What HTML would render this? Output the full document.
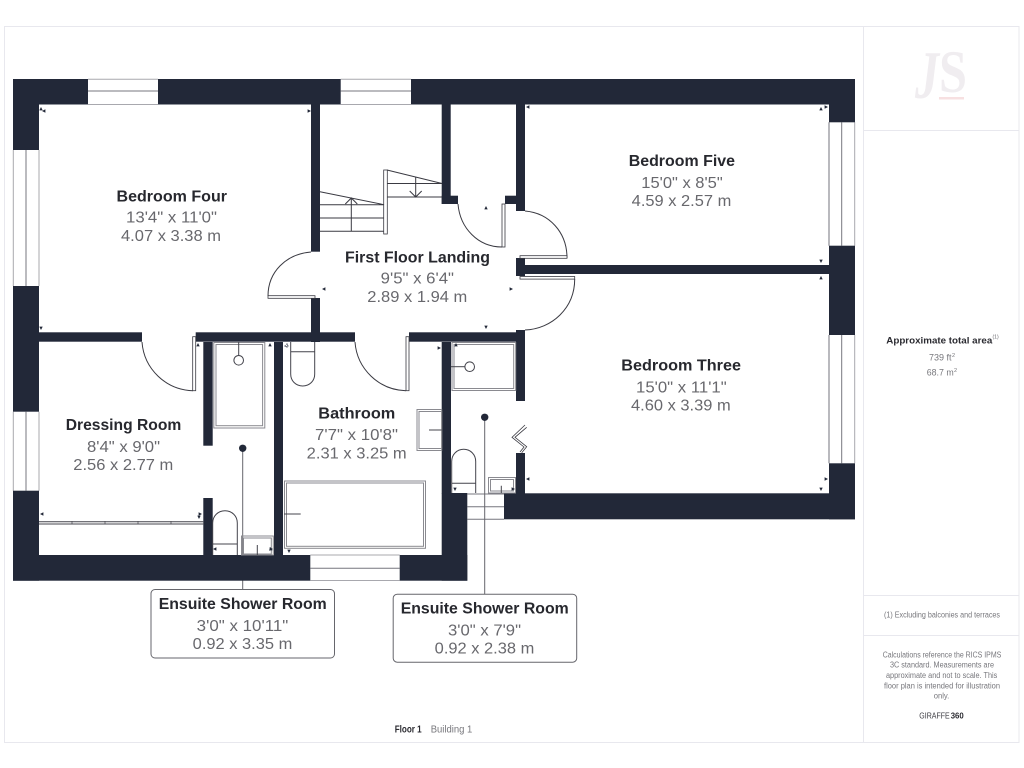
<!DOCTYPE html>
<html>
<head>
<meta charset="utf-8">
<title>Floor 1 plan</title>
<style>
html,body{margin:0;padding:0;background:#fff;width:1024px;height:768px;overflow:hidden}
svg{position:absolute;left:0;top:0;display:block}
text{font-family:"Liberation Sans",sans-serif}
.t{font-weight:700;font-size:16px;fill:#27282e}
.d{font-size:16px;fill:#68686d}
.s{font-size:8px;fill:#77777c}
</style>
</head>
<body>
<svg width="1024" height="768" viewBox="0 0 1024 768" xmlns="http://www.w3.org/2000/svg">
<rect width="1024" height="768" fill="#fff"/>
<!-- frame -->
<g stroke="#e8e8ee" stroke-width="1" fill="none">
<rect x="4.5" y="26.5" width="1014.5" height="716"/>
<path d="M863.5 26.5V742.5M863.5 130.5H1019M863.5 595.5H1019M863.5 635.5H1019"/>
</g>
<!-- logo -->
<text x="915" y="98" font-size="68" font-style="italic" font-weight="700" textLength="24" lengthAdjust="spacingAndGlyphs" style="font-family:'Liberation Serif',serif" fill="#f0edf0">J</text>
<text x="939" y="92" font-size="60" font-weight="700" textLength="28" lengthAdjust="spacingAndGlyphs" style="font-family:'Liberation Serif',serif" fill="#f0edf0">S</text>
<rect x="939" y="97" width="25" height="2.5" fill="#f7e0e1"/>

<!-- window and opening lines -->
<g fill="none" stroke="#77777f" stroke-width="1">
<path d="M88 91H158M340.7 91H411M26 150V286M26 411.7V490.7M310.3 568.3H399.7M841.7 122.3V245.7M841.7 335V463.3"/>
<path d="M467.3 494H504M467.3 506.7H504M467.3 519.3H504"/>
</g>
<g fill="none" stroke="#a8a8ae" stroke-width="1">
<path d="M88 79.3H158M340.7 79.3H411M88 104.5H158M340.7 104.5H411M13.3 150V286M13.3 411.7V490.7M39 150V286M39 411.7V490.7M310.3 555H399.7M310.3 580.5H399.7M854.7 122.3V245.7M854.7 335V463.3"/>
</g>
<path d="M829 122.3V245.7M829 335V463.3" stroke="#a8a8ae" stroke-width="1.6" fill="none"/>

<!-- leader lines drawn beneath walls -->
<path d="M242.7 448V589M484.7 417V594" stroke="#66666c" stroke-width="1" fill="none"/>

<!-- walls -->
<g fill="#222838">
<rect x="13" y="79" width="75" height="25.5"/>
<rect x="158" y="79" width="182.7" height="25.5"/>
<rect x="411" y="79" width="444" height="25.5"/>
<rect x="13" y="79" width="26" height="71"/>
<rect x="13" y="286" width="26" height="125.7"/>
<rect x="13" y="490.7" width="26" height="90"/>
<rect x="13" y="555" width="297.3" height="25.7"/>
<rect x="399.7" y="555" width="67.6" height="25.7"/>
<rect x="829" y="79" width="26" height="43.3"/>
<rect x="829" y="245.7" width="26" height="89.3"/>
<rect x="829" y="463.3" width="26" height="56"/>
<rect x="504" y="493.3" width="351" height="26"/>
<rect x="311" y="104" width="9" height="147.7"/>
<rect x="311" y="298" width="9" height="44"/>
<rect x="39" y="332.3" width="103" height="9.4"/>
<rect x="195.7" y="332.3" width="159.3" height="9.4"/>
<rect x="409" y="332.3" width="116" height="9.4"/>
<rect x="441.7" y="104" width="9" height="100"/>
<rect x="441.7" y="195.7" width="16.3" height="8.3"/>
<rect x="516" y="104" width="9" height="107"/>
<rect x="505" y="195.7" width="11" height="8.3"/>
<rect x="516" y="258" width="9" height="18"/>
<rect x="516" y="265" width="313" height="9"/>
<rect x="516" y="330" width="9" height="71"/>
<rect x="516" y="453" width="9" height="41"/>
<rect x="203.3" y="342" width="9.4" height="103.7"/>
<rect x="203.3" y="498" width="9.4" height="57"/>
<rect x="274" y="342" width="9" height="213"/>
<rect x="441.7" y="342" width="9.3" height="151.5"/>
<rect x="441.7" y="493" width="25.6" height="87.7"/>
</g>

<!-- doors -->
<g fill="none" stroke="#3a3a42" stroke-width="1">
<path d="M311 252C286 254 268 272 268 296"/>
<rect x="268" y="295.7" width="47" height="2.6" fill="#fff" stroke-width=".8"/>
<path d="M458 204C460 228 478 247 502 247"/>
<rect x="502" y="204" width="3" height="43" fill="#fff" stroke-width=".8"/>
<path d="M525 211C549 213 567 232 567 258"/>
<rect x="520" y="255.7" width="47" height="2.6" fill="#fff" stroke-width=".8"/>
<path d="M574.7 279C574.7 308 552 329 525 330"/>
<rect x="520" y="276.5" width="54.7" height="2.6" fill="#fff" stroke-width=".8"/>
<path d="M142 342C144 369 166 390 193 390.7"/>
<rect x="192.7" y="336.7" width="3" height="54" fill="#fff" stroke-width=".8"/>
<path d="M355 342C357 369 379 390 406 390.7"/>
<rect x="406" y="336.7" width="3" height="54" fill="#fff" stroke-width=".8"/>
<path d="M526.7 427.3L515 437.3L526.7 446.7L521.7 452.7M525 425L512 437.3L524 447L520 452" stroke-width=".8"/>
</g>

<!-- stairs -->
<g fill="none" stroke="#3a3a42" stroke-width="1">
<rect x="383.7" y="170" width="3.6" height="64" fill="#fff" stroke-width=".8"/>
<path d="M387 170L442 183.5M387 183.5H442M387 197H442"/>
<path d="M415.7 177V197M409.7 191L415.7 197L421.7 191"/>
<path d="M320 191.7L384 204.7M320 204.7H384M320 218H384M320 231.3H384"/>
<path d="M351.3 198V231.3M345.3 204L351.3 198L357.3 204"/>
</g>

<!-- fixtures -->
<g fill="none" stroke="#8a8a90" stroke-width="1">
<rect x="213.8" y="342.5" width="51" height="85.5"/>
<rect x="216" y="344.5" width="46.6" height="81.2"/>
<rect x="241.5" y="536" width="31.8" height="19"/>
<rect x="243.5" y="538" width="27.8" height="16"/>
<rect x="284.5" y="481" width="141" height="67.3"/>
<rect x="286.5" y="483" width="137" height="63.3"/>
<rect x="417" y="409.5" width="24.7" height="41"/>
<rect x="419" y="411.5" width="22.7" height="37"/>
<rect x="452" y="342.5" width="63.7" height="48"/>
<rect x="454" y="344.5" width="59.7" height="44"/>
<rect x="488.5" y="477.5" width="27" height="15.5"/>
<rect x="490.5" y="479.5" width="23" height="11.5"/>
</g>
<g fill="none" stroke="#44444c" stroke-width="1">
<circle cx="238.7" cy="360.3" r="4.8"/><path d="M238.7 342V355.5"/>
<circle cx="469.7" cy="366.7" r="4.8"/><path d="M451 366.7H465"/>
<path d="M257.3 545V555M284 514H300.7M429 430H441.7M501.3 485.7V493"/>
<path d="M212.7 555V523C212.7 516 218 510.7 225 510.7C232 510.7 237.3 516 237.3 523V555M212.7 544H237.3"/>
<path d="M290.7 342V374C290.7 381 296 386 302.7 386C309.4 386 314.7 381 314.7 374V342M290.7 351.7H314.7"/>
<path d="M451.7 493V461.5C451.7 454.5 457 449.3 463.7 449.3C470.4 449.3 475.7 454.5 475.7 461.5V493M451.7 483.3H475.7"/>
<path d="M39 521.7H203.3M39 524H203.3"/>
<path d="M72 521V524M105 521V524M138 521V524M171 521V524" stroke-width=".7"/>
</g>
<circle cx="242.7" cy="448.3" r="3.7" fill="#222838"/>
<circle cx="484.7" cy="417.3" r="3.7" fill="#222838"/>

<!-- dimension markers -->
<path fill="#222838" d="
M41 107l-1.7 3.4h3.4zM42 111l3.4-1.7v3.4zM311 111l-3.4-1.7v3.4z
M41 330l-1.7-3.4h3.4zM322 289l3.4-1.7v3.4zM513 289l-3.4-1.7v3.4z
M486 329l-1.7-3.4h3.4zM486 206l-1.7 3.4h3.4zM526 107l3.4-1.7v3.4z
M821 107l-1.7 3.4h3.4zM828 107l-3.4-1.7v3.4zM821 263l-1.7-3.4h3.4z
M821 276l-1.7 3.4h3.4zM526 479l3.4-1.7v3.4zM828 479l-3.4-1.7v3.4z
M821 491l-1.7-3.4h3.4zM198 343l-1.7 3.4h3.4zM270 343l-1.7 3.4h3.4z
M284 346l3.4-1.7v3.4zM287 343l-1.7 3.4h3.4zM40 514l3.4-1.7v3.4z
M202 514l-3.4-1.7v3.4zM199 519l-1.7-3.4h3.4zM213 549l3.4-1.7v3.4z
M273 549l-3.4-1.7v3.4zM270.7 547l-1.7 3.4h3.4zM289 553l-1.7-3.4h3.4z
M441 348l-3.4-1.7v3.4zM456 343l-1.7 3.4h3.4zM455 491l-1.7-3.4h3.4z
M515 489l-3.4-1.7v3.4z"/>

<!-- room labels -->
<text class="t" x="116.5" y="201.5" textLength="110.5" lengthAdjust="spacingAndGlyphs">Bedroom Four</text>
<text class="d" x="126" y="222.7" textLength="91" lengthAdjust="spacingAndGlyphs">13'4" x 11'0"</text>
<text class="d" x="121" y="241" textLength="100" lengthAdjust="spacingAndGlyphs">4.07 x 3.38 m</text>

<text class="t" x="345" y="262.3" textLength="145" lengthAdjust="spacingAndGlyphs">First Floor Landing</text>
<text class="d" x="380.7" y="283.3" textLength="73.3" lengthAdjust="spacingAndGlyphs">9'5" x 6'4"</text>
<text class="d" x="367.3" y="302" textLength="100" lengthAdjust="spacingAndGlyphs">2.89 x 1.94 m</text>

<text class="t" x="628.7" y="166" textLength="106.3" lengthAdjust="spacingAndGlyphs">Bedroom Five</text>
<text class="d" x="641.3" y="188" textLength="81.4" lengthAdjust="spacingAndGlyphs">15'0" x 8'5"</text>
<text class="d" x="631.7" y="206" textLength="99.6" lengthAdjust="spacingAndGlyphs">4.59 x 2.57 m</text>

<text class="t" x="621.3" y="370.7" textLength="119.7" lengthAdjust="spacingAndGlyphs">Bedroom Three</text>
<text class="d" x="636" y="392.3" textLength="90.7" lengthAdjust="spacingAndGlyphs">15'0" x 11'1"</text>
<text class="d" x="631" y="410.7" textLength="99.7" lengthAdjust="spacingAndGlyphs">4.60 x 3.39 m</text>

<text class="t" x="65.7" y="430" textLength="115.6" lengthAdjust="spacingAndGlyphs">Dressing Room</text>
<text class="d" x="87" y="452" textLength="73" lengthAdjust="spacingAndGlyphs">8'4" x 9'0"</text>
<text class="d" x="73.3" y="470" textLength="100" lengthAdjust="spacingAndGlyphs">2.56 x 2.77 m</text>

<text class="t" x="318.3" y="418.3" textLength="77" lengthAdjust="spacingAndGlyphs">Bathroom</text>
<text class="d" x="315" y="440" textLength="83" lengthAdjust="spacingAndGlyphs">7'7" x 10'8"</text>
<text class="d" x="306.7" y="458.3" textLength="100" lengthAdjust="spacingAndGlyphs">2.31 x 3.25 m</text>

<!-- callouts -->
<rect x="151" y="589.5" width="183.5" height="68.5" rx="4" fill="#fff" stroke="#66666c" stroke-width="1"/>
<text class="t" x="158.7" y="609" textLength="168" lengthAdjust="spacingAndGlyphs">Ensuite Shower Room</text>
<text class="d" x="196.7" y="631" textLength="91.6" lengthAdjust="spacingAndGlyphs">3'0" x 10'11"</text>
<text class="d" x="192.7" y="649" textLength="99.6" lengthAdjust="spacingAndGlyphs">0.92 x 3.35 m</text>

<rect x="393.2" y="594.2" width="183.5" height="68" rx="4" fill="#fff" stroke="#66666c" stroke-width="1"/>
<text class="t" x="400.7" y="613.7" textLength="168" lengthAdjust="spacingAndGlyphs">Ensuite Shower Room</text>
<text class="d" x="448" y="635.7" textLength="73" lengthAdjust="spacingAndGlyphs">3'0" x 7'9"</text>
<text class="d" x="434.7" y="653.3" textLength="99.6" lengthAdjust="spacingAndGlyphs">0.92 x 2.38 m</text>

<!-- floor caption -->
<text x="394.7" y="732.3" font-size="10" font-weight="700" fill="#2a2a30" textLength="27" lengthAdjust="spacingAndGlyphs">Floor 1</text>
<text x="430.7" y="732.3" font-size="10" fill="#77777c" textLength="41.6" lengthAdjust="spacingAndGlyphs">Building 1</text>

<!-- side panel -->
<text x="886.3" y="343.3" font-size="9.5" font-weight="700" fill="#2a2a30" textLength="106" lengthAdjust="spacingAndGlyphs">Approximate total area</text>
<text x="992.5" y="338.5" font-size="5" fill="#66666c">(1)</text>
<text x="929" y="360.7" font-size="9.5" fill="#77777c" textLength="22.5" lengthAdjust="spacingAndGlyphs">739 ft</text>
<text x="952" y="357" font-size="5.5" fill="#77777c">2</text>
<text x="926.7" y="375.3" font-size="9.5" fill="#77777c" textLength="27" lengthAdjust="spacingAndGlyphs">68.7 m</text>
<text x="954" y="372" font-size="5.5" fill="#77777c">2</text>

<text class="s" x="884" y="617.3" textLength="116" lengthAdjust="spacingAndGlyphs">(1) Excluding balconies and terraces</text>
<text class="s" x="882.7" y="657.3" textLength="118.6" lengthAdjust="spacingAndGlyphs">Calculations reference the RICS IPMS</text>
<text class="s" x="890" y="667.7" textLength="104" lengthAdjust="spacingAndGlyphs">3C standard. Measurements are</text>
<text class="s" x="886" y="678" textLength="111.3" lengthAdjust="spacingAndGlyphs">approximate and not to scale. This</text>
<text class="s" x="884" y="688.3" textLength="116" lengthAdjust="spacingAndGlyphs">floor plan is intended for illustration</text>
<text class="s" x="933.7" y="698.7" textLength="15.6" lengthAdjust="spacingAndGlyphs">only.</text>
<text x="919.3" y="718.3" font-size="8.5" fill="#3a3a40" textLength="30.4" lengthAdjust="spacingAndGlyphs">GIRAFFE</text>
<text x="950.7" y="718.3" font-size="8.5" font-weight="700" fill="#2a2a30" textLength="13" lengthAdjust="spacingAndGlyphs">360</text>
</svg>
</body>
</html>
